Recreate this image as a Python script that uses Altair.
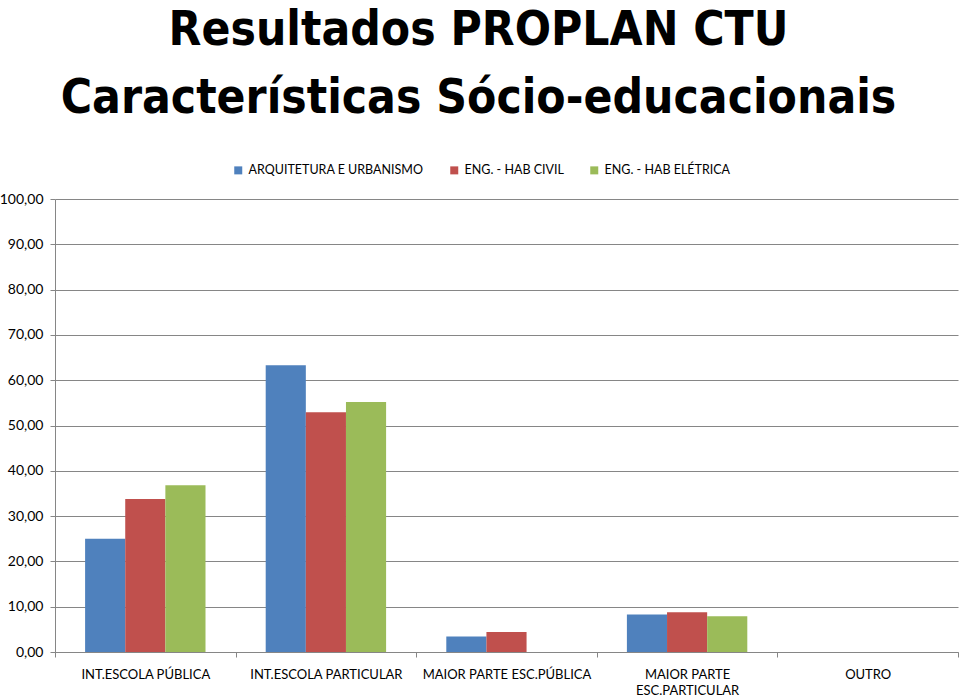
import altair as alt
import pandas as pd

categories = ["INT.ESCOLA PÚBLICA", "INT.ESCOLA PARTICULAR", "MAIOR PARTE ESC.PÚBLICA",
              "MAIOR PARTE ESC.PARTICULAR", "OUTRO"]
series = ["ARQUITETURA E URBANISMO", "ENG. - HAB CIVIL", "ENG. - HAB ELÉTRICA"]
arquitetura = [25.0, 63.3, 3.4, 8.3, 0.0]
civil = [33.8, 52.9, 4.4, 8.8, 0.0]
eletrica = [36.8, 55.2, 0.0, 7.9, 0.0]
colors = ["#4F81BD", "#C0504D", "#9BBB59"]

rows = []
for s, vals in zip(series, [arquitetura, civil, eletrica]):
    for c, v in zip(categories, vals):
        rows.append({"cat": c, "serie": s, "valor": v})
df = pd.DataFrame(rows)

FONT = "Lato"
TFONT = "DejaVu Sans Condensed"
GRID = "#868686"

chart = alt.Chart(df).mark_bar().encode(
    x=alt.X("cat:N", sort=categories,
            scale=alt.Scale(paddingInner=0, paddingOuter=0),
            axis=alt.Axis(title=None, labelAngle=0, tickBand="extent", domainColor=GRID,
                          tickColor=GRID, tickSize=5, labelPadding=11, labelFont=FONT,
                          labelFontSize=13, labelColor="#000000", labelLimit=300,
                          labelExpr="datum.label == 'MAIOR PARTE ESC.PARTICULAR' ? ['MAIOR PARTE', 'ESC.PARTICULAR'] : datum.label",
                          labelLineHeight=16)),
    xOffset=alt.XOffset("serie:N", sort=series,
                        scale=alt.Scale(paddingOuter=0.75, paddingInner=0)),
    y=alt.Y("valor:Q", scale=alt.Scale(domain=[0, 100], nice=False),
            axis=alt.Axis(title=None, values=list(range(0, 101, 10)), grid=True,
                          gridColor=GRID, domainColor=GRID, tickColor=GRID, tickSize=5,
                          labelPadding=7, labelFont=FONT, labelFontSize=14,
                          labelColor="#000000",
                          labelExpr="replace(format(datum.value, '.2f'), '.', ',')")),
    color=alt.Color("serie:N", sort=series, scale=alt.Scale(domain=series, range=colors),
                    legend=alt.Legend(title=None, orient="none", direction="horizontal",
                                      legendX=177, legendY=-35, symbolType="square",
                                      symbolSize=64, symbolStrokeWidth=0,
                                      labelFont=FONT, labelFontSize=12.5,
                                      labelColor="#000000", columnPadding=24,
                                      labelLimit=400, padding=0)),
).properties(
    width=903, height=453,
    title=alt.TitleParams(["Resultados PROPLAN CTU", "Características Sócio-educacionais"],
                          font=TFONT, fontSize=47.5, fontWeight="bold", color="#000000",
                          anchor="middle", frame="group", dx=-28, offset=42, lineHeight=68),
    autosize=alt.AutoSizeParams(type="none"),
    padding={"left": 55, "top": 199, "right": 2, "bottom": 47},
).configure_view(stroke=None).configure_axis(domainWidth=1, gridWidth=1)

chart.save("out.html", embed_options={"renderer": "svg", "actions": False})
